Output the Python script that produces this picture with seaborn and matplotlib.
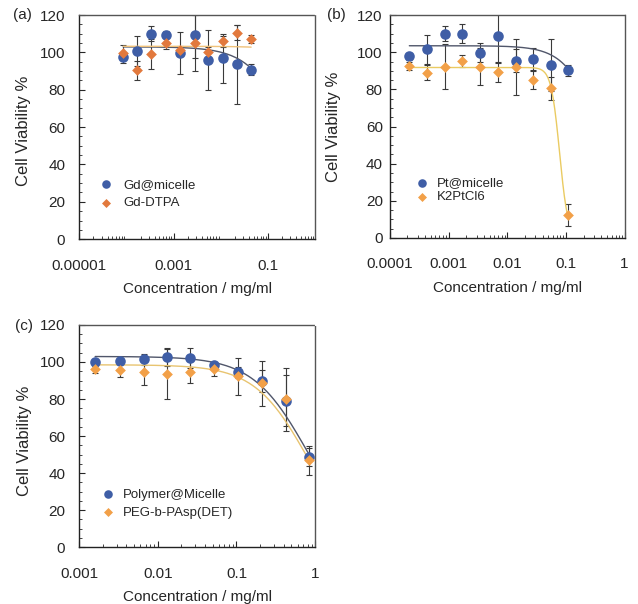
import numpy as np
import pandas as pd
import matplotlib
matplotlib.use('Agg')
import matplotlib.pyplot as plt
from matplotlib.ticker import MultipleLocator, LogLocator, NullFormatter
import seaborn as sns

# ---------------- data ----------------
# (a) Gd
conc_a = [0.000086, 0.00017, 0.00034, 0.00069, 0.0014, 0.0028, 0.0055, 0.011, 0.022, 0.044]
gd_micelle = [97.5, 101, 110, 109.6, 99.7, 109.2, 95.8, 96.8, 93.6, 90.7]
gd_micelle_err = [3, 8, 4, 2, 11.5, 12, 16, 13, 21, 3]
gd_dtpa = [99.8, 90.5, 99.2, 104.8, 101.5, 104.8, 100, 106, 110.6, 107.3]
gd_dtpa_err = [4, 5, 8, 3, 2, 15, 3, 3, 4, 2]

# (b) Pt
conc_b = [0.000215, 0.00043, 0.00086, 0.0017, 0.0034, 0.0069, 0.014, 0.0275, 0.055, 0.11]
pt_micelle = [97.8, 101.5, 110, 110, 99.8, 108.6, 95.5, 96.5, 93.2, 90.4]
pt_micelle_err = [2, 8, 4, 5, 5, 14, 6, 6, 14, 3]
k2ptcl6 = [92.5, 89, 92.2, 95.3, 92.2, 89.2, 92, 85, 80.5, 12.5]
k2ptcl6_err = [2, 4, 12, 3, 10, 5, 15, 5, 6, 6]

# (c) polymer
conc_c = [0.0016, 0.0033, 0.0066, 0.013, 0.026, 0.0525, 0.105, 0.21, 0.42, 0.84]
poly_micelle = [99.8, 100.3, 101.5, 102.7, 102.2, 98.2, 94.5, 89.6, 79.2, 48.7]
poly_micelle_err = [2, 2, 3, 5, 5.5, 2, 3, 6, 14, 5]
peg_pasp = [96.2, 95.8, 94.4, 93.6, 94.6, 96.2, 92.2, 88.5, 79.8, 46.9]
peg_pasp_err = [2, 4, 7, 13.5, 6, 4, 10, 12, 17, 8]

# Hill fit parameters (top, ic50, slope) for the drawn curves
fit_gd_micelle = (103, 0.35, 1.0)
fit_gd_dtpa = (103.3, 10.0, 1.0)
fit_pt_micelle = (103.5, 0.41, 1.5)
fit_k2ptcl6 = (91.8, 0.078, 6.0)
fit_poly_micelle = (103, 0.80, 1.25)
fit_peg_pasp = (98.5, 0.78, 1.3)

BLUE = '#3f5ea6'
ORANGE_A = '#e2793d'
ORANGE = '#f2a048'

sns.set_style('ticks')
plt.rcParams['font.family'] = ['Liberation Sans', 'DejaVu Sans']
plt.rcParams['font.size'] = 11


def hill(x, top, ic50, h):
    return top / (1 + (x / ic50) ** h)


def panel(ax, conc, s1, e1, n1, f1, s2, e2, n2, f2, c2, line2, xlim, xticks, xlabels,
          leg_anchor, leg_space, leg_pad, ylab_pos, ytick_pad):
    # error bars
    for s, e in [(s1, e1), (s2, e2)]:
        ax.errorbar(conc, s, yerr=e, fmt='none', ecolor='#3a3a3a', elinewidth=0.8,
                    capsize=2.5, capthick=0.8, zorder=2)
    # fitted curves
    xs = np.geomspace(min(conc), max(conc), 200)
    sns.lineplot(x=xs, y=hill(xs, *f1), color='#50566a', lw=1.0, ax=ax, zorder=3)
    sns.lineplot(x=xs, y=hill(xs, *f2), color=line2, lw=1.0, ax=ax, zorder=3)
    # data points
    sns.scatterplot(x=conc, y=s1, marker='o', color=BLUE, s=58, linewidth=0,
                    ax=ax, zorder=4, label=n1)
    sns.scatterplot(x=conc, y=s2, marker='D', color=c2, s=30, linewidth=0,
                    ax=ax, zorder=5, label=n2)
    h, l = ax.get_legend_handles_labels()
    leg = ax.legend(h, l, frameon=False, loc='lower left', bbox_to_anchor=leg_anchor,
                    handlelength=1.0, handletextpad=leg_pad, labelspacing=leg_space,
                    fontsize=9.5, borderaxespad=0)
    handles = leg.legend_handles
    handles[0].set_sizes([38])
    handles[1].set_sizes([21])

    ax.set_xscale('log')
    ax.set_xlim(*xlim)
    ax.set_ylim(0, 120)
    ax.set_xticks(xticks)
    ax.set_xticklabels(xlabels)
    ax.xaxis.set_minor_locator(LogLocator(base=10, subs=np.arange(2, 10), numticks=20))
    ax.xaxis.set_minor_formatter(NullFormatter())
    ax.yaxis.set_major_locator(MultipleLocator(20))
    ax.yaxis.set_minor_locator(MultipleLocator(5))
    ax.tick_params(which='both', direction='in', top=False, right=False, labelsize=11)
    ax.tick_params(which='major', length=4, width=0.8)
    ax.tick_params(which='minor', length=2, width=0.6)
    ax.tick_params(axis='x', pad=14)
    ax.tick_params(axis='y', pad=ytick_pad)
    for sp in ['top', 'right']:
        ax.spines[sp].set_color('#555555')
        ax.spines[sp].set_linestyle((0, (1, 1)))
        ax.spines[sp].set_linewidth(1.0)
    for sp in ['left', 'bottom']:
        ax.spines[sp].set_color('#222222')
        ax.spines[sp].set_linewidth(1.0)
    ax.set_xlabel('Concentration / mg/ml', fontsize=11, labelpad=7)
    ax.set_ylabel('Cell Viability %', fontsize=12)
    ax.yaxis.set_label_coords(*ylab_pos)


fig = plt.figure(figsize=(6.38, 6.04), dpi=100)
ax_a = fig.add_axes([0.124, 0.604, 0.370, 0.371])
ax_b = fig.add_axes([0.611, 0.606, 0.368, 0.369])
ax_c = fig.add_axes([0.124, 0.094, 0.370, 0.368])

panel(ax_a, conc_a, gd_micelle, gd_micelle_err, 'Gd@micelle', fit_gd_micelle,
      gd_dtpa, gd_dtpa_err, 'Gd-DTPA', fit_gd_dtpa, ORANGE_A, '#f0c27a',
      (1e-5, 1.0), [1e-5, 1e-3, 1e-1], ['0.00001', '0.001', '0.1'],
      (0.065, 0.109), 0.5, 0.8, (-0.205, 0.482), 10)
panel(ax_b, conc_b, pt_micelle, pt_micelle_err, 'Pt@micelle', fit_pt_micelle,
      k2ptcl6, k2ptcl6_err, 'K2PtCl6', fit_k2ptcl6, ORANGE, '#eacb62',
      (1e-4, 1.0), [1e-4, 1e-3, 1e-2, 1e-1, 1], ['0.0001', '0.001', '0.01', '0.1', '1'],
      (0.087, 0.132), 0.15, 0.65, (-0.208, 0.498), 5)
panel(ax_c, conc_c, poly_micelle, poly_micelle_err, 'Polymer@Micelle', fit_poly_micelle,
      peg_pasp, peg_pasp_err, 'PEG-b-PAsp(DET)', fit_peg_pasp, ORANGE, '#e8c470',
      (1e-3, 1.0), [1e-3, 1e-2, 1e-1, 1], ['0.001', '0.01', '0.1', '1'],
      (0.074, 0.105), 0.44, 0.6, (-0.198, 0.48), 10)

fig.text(0.021, 0.975, '(a)', fontsize=11, va='center')
fig.text(0.512, 0.975, '(b)', fontsize=11, va='center')
fig.text(0.023, 0.460, '(c)', fontsize=11, va='center')

fig.savefig('out.png', dpi=100)
